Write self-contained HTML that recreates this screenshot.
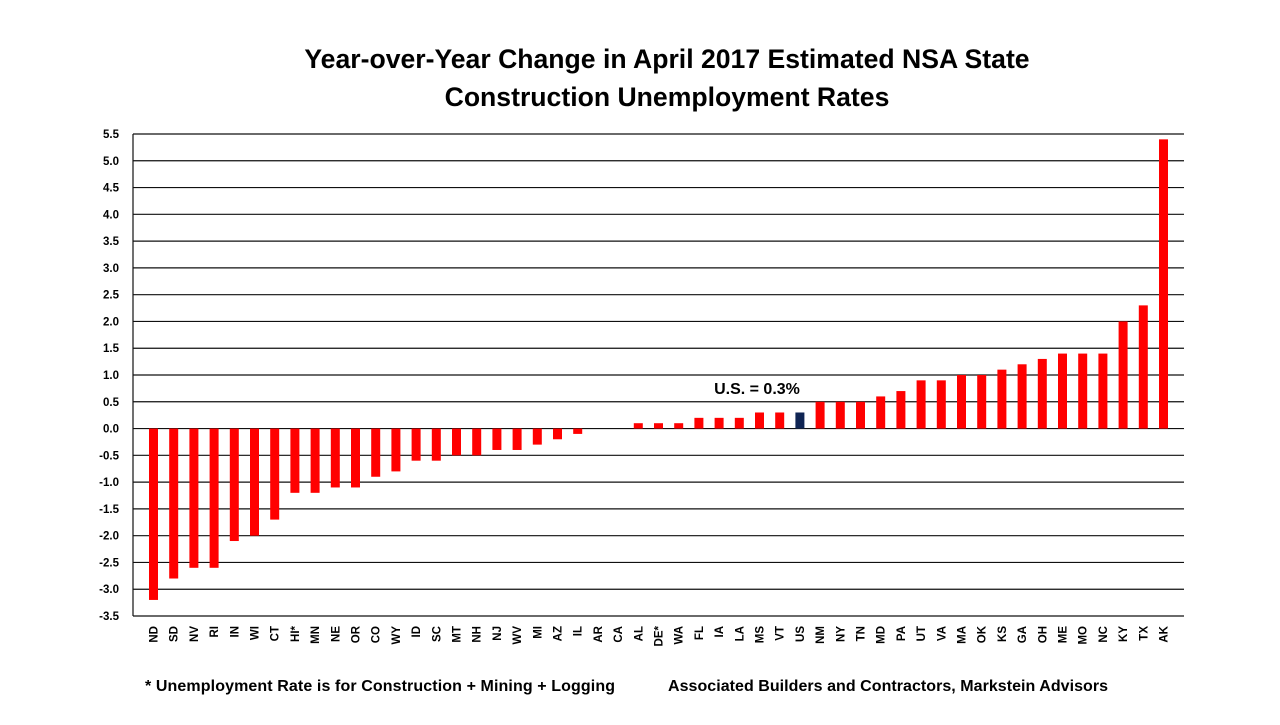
<!DOCTYPE html>
<html><head><meta charset="utf-8"><style>
body{margin:0;background:#fff;width:1280px;height:720px;overflow:hidden;font-family:"Liberation Sans",Arial,sans-serif}
</style></head><body>
<svg width="1280" height="720" xmlns="http://www.w3.org/2000/svg">
<text x="667" y="68" text-anchor="middle" font-size="26.6" font-weight="bold">Year-over-Year Change in April 2017 Estimated NSA State</text>
<text x="667" y="106" text-anchor="middle" font-size="26.6" font-weight="bold">Construction Unemployment Rates</text>
<g id="grid"></g><g id="bars"></g><g id="xl"></g>
<text x="757" y="394" text-anchor="middle" font-size="16" font-weight="bold">U.S. = 0.3%</text>
<text x="145" y="691" font-size="16" font-weight="bold" textLength="470">* Unemployment Rate is for Construction + Mining + Logging</text>
<text x="668" y="691" font-size="16" font-weight="bold" textLength="440">Associated Builders and Contractors, Markstein Advisors</text>
</svg>
<script>
const categories=["ND","SD","NV","RI","IN","WI","CT","HI*","MN","NE","OR","CO","WY","ID","SC","MT","NH","NJ","WV","MI","AZ","IL","AR","CA","AL","DE*","WA","FL","IA","LA","MS","VT","US","NM","NY","TN","MD","PA","UT","VA","MA","OK","KS","GA","OH","ME","MO","NC","KY","TX","AK"];
const values=[-3.2,-2.8,-2.6,-2.6,-2.1,-2.0,-1.7,-1.2,-1.2,-1.1,-1.1,-0.9,-0.8,-0.6,-0.6,-0.5,-0.5,-0.4,-0.4,-0.3,-0.2,-0.1,0,0,0.1,0.1,0.1,0.2,0.2,0.2,0.3,0.3,0.3,0.5,0.5,0.5,0.6,0.7,0.9,0.9,1.0,1.0,1.1,1.2,1.3,1.4,1.4,1.4,2.0,2.3,5.4];
const ticks=[5.5,5.0,4.5,4.0,3.5,3.0,2.5,2.0,1.5,1.0,0.5,0.0,-0.5,-1.0,-1.5,-2.0,-2.5,-3.0,-3.5];
const NS="http://www.w3.org/2000/svg";
const L=133,R=1184,T=134,B=616,ymin=-3.5,ymax=5.5;
const y=v=>T+(ymax-v)/(ymax-ymin)*(B-T);
const pad=10.4;
const bw=(R-L-2*pad)/categories.length;
const x=i=>L+pad+bw*(i+0.5);
function mk(t,a,p){const e=document.createElementNS(NS,t);for(const k in a)e.setAttribute(k,a[k]);p.appendChild(e);return e;}
const g=document.getElementById('grid'),bg=document.getElementById('bars'),xl=document.getElementById('xl');
ticks.forEach(v=>{
 const ln=mk('line',{x1:L,x2:R,y1:y(v),y2:y(v),stroke:'#111','stroke-width':1.2},g);
 
 
 const t=mk('text',{x:L-14,y:y(v)+4,'text-anchor':'end','font-size':11.5,'font-weight':'bold'},g);
 t.textContent=v.toFixed(1);
 
 
});
const ax=mk('line',{x1:L,x2:L,y1:T,y2:B,stroke:'#111','stroke-width':1.2},g);


categories.forEach((c,i)=>{
 const v=values[i];
 if(v!==0){
  const r=mk('rect',{x:x(i)-4.5,y:Math.min(y(v),y(0)),width:9,height:Math.abs(y(v)-y(0)),fill:c==='US'?'#0f2453':'#ff0000'},bg);
  
  
 }
 const t=mk('text',{x:0,y:0,'text-anchor':'end','font-size':11.5,'font-weight':'bold',transform:`translate(${x(i)+4},626) rotate(-90)`},xl);
 t.textContent=c;
 
 
});
</script>
</body></html>
